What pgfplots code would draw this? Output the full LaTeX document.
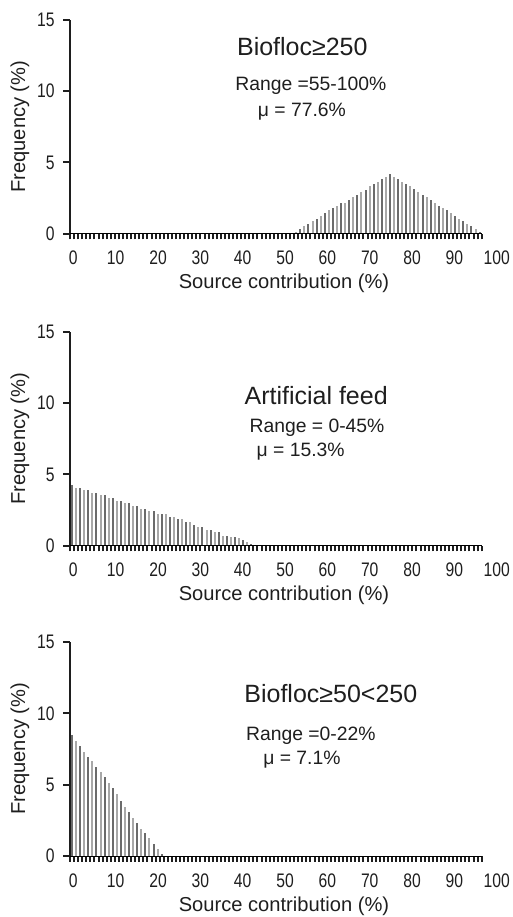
\documentclass[border=0pt]{standalone}
\usepackage{fontspec}
\setmainfont{Liberation Sans}
\usepackage{pgfplots}
\usepackage{pgfplotstable}
\pgfplotsset{compat=1.18}

\definecolor{bardark}{HTML}{6B6B6B}
\definecolor{barlight}{HTML}{A8A8A8}
\definecolor{ink}{HTML}{1E1E1E}

% frequency (%) of each source-contribution bin
\pgfplotstableread{
x y
55 0.14
56 0.30
57 0.52
58 0.68
59 0.89
60 1.03
61 1.26
62 1.43
63 1.66
64 1.80
65 1.94
66 2.18
67 2.18
68 2.34
69 2.55
70 2.72
71 2.93
72 3.09
73 3.33
74 3.47
75 3.61
76 3.84
77 4.00
78 4.22
79 4.00
80 3.84
81 3.63
82 3.49
83 3.33
84 3.11
85 2.95
86 2.72
87 2.55
88 2.34
89 2.18
90 1.94
91 1.80
92 1.66
93 1.43
94 1.26
95 1.03
96 0.89
97 0.68
98 0.52
99 0.30
100 0.14
}\bioflocLarge

\pgfplotstableread{
x y
0 4.26
1 4.05
2 4.05
3 3.89
4 3.89
5 3.68
6 3.68
7 3.54
8 3.54
9 3.35
10 3.35
11 3.14
12 3.14
13 3.00
14 3.00
15 2.79
16 2.79
17 2.60
18 2.60
19 2.41
20 2.41
21 2.23
22 2.23
23 2.23
24 2.00
25 2.00
26 1.85
27 1.85
28 1.69
29 1.69
30 1.48
31 1.31
32 1.31
33 1.10
34 1.10
35 0.94
36 0.94
37 0.70
38 0.70
39 0.59
40 0.59
41 0.52
42 0.40
43 0.25
44 0.15
45 0.08
}\artificialFeed

\pgfplotstableread{
x y
0 8.45
1 8.08
2 7.70
3 7.31
4 6.93
5 6.63
6 6.25
7 5.88
8 5.50
9 5.13
10 4.75
11 4.36
12 3.84
13 3.44
14 3.07
15 2.69
16 2.30
17 1.92
18 1.62
19 1.24
20 0.87
21 0.49
22 0.12
}\bioflocSmall

\newcommand{\titlefont}{\fontsize{18.75}{21}\selectfont}
\newcommand{\notefont}{\fontsize{14.5}{16}\selectfont}
\newcommand{\axisfont}{\fontsize{15.1}{17}\selectfont}
\newcommand{\tickfont}{\fontsize{14.7}{17}\selectfont}
% tick numbers are set in a narrow cut of the sans face
\newcommand{\narrow}[1]{\scalebox{0.8}[1]{#1}}

\pgfplotsset{
  panel/.style={
    width=321pt, height=160.5pt, scale only axis,
    xmin=-0.5, xmax=104.5, ymin=0, ymax=15,
    axis lines*=left,
    x axis line style={draw=none},
    y axis line style={line width=1.5pt, ink},
    tick align=outside,
    xtick={0.32,10.71,21.10,31.48,41.87,52.26,62.65,73.04,83.42,93.81,104.2},
    xticklabels={\narrow{0},\narrow{10},\narrow{20},\narrow{30},\narrow{40},
      \narrow{50},\narrow{60},\narrow{70},\narrow{80},\narrow{90},\narrow{100}},
    minor xtick={-0.5,0.5,...,100.5},
    ytick={0,5,10,15},
    yticklabels={\narrow{0},\narrow{5},\narrow{10},\narrow{15}},
    major tick length=5pt,
    minor tick length=4.2pt,
    major x tick style={draw=none},
    minor x tick style={line width=1.5pt, ink},
    ytick style={line width=1.5pt, ink},
    tick label style={font=\tickfont, text=ink},
    xticklabel style={yshift=-4.5pt},
    yticklabel style={xshift=-3pt},
    xlabel={Source contribution (\%)},
    ylabel={Frequency (\%)},
    every axis x label/.style={at={(axis description cs:0.5,-0.234)},
      anchor=center, font=\axisfont, text=ink},
    every axis y label/.style={at={(axis description cs:-0.117,0.5)},
      anchor=center, rotate=90, font=\axisfont, text=ink},
    clip=false,
  },
  evenbars/.style={ycomb, line width=1.5pt, draw=bardark,
    x filter/.expression={mod(x,2)==0 ? x : nan}},
  oddbars/.style={ycomb, line width=1.5pt, draw=barlight,
    x filter/.expression={mod(x,2)==1 ? x : nan}},
  baseline/.style={line width=2pt, ink},
}

\begin{document}
\begin{tikzpicture}
% Biofloc >= 250
\begin{axis}[panel, at={(0,0)}]
  \addplot[evenbars] table {\bioflocLarge};
  \addplot[oddbars] table {\bioflocLarge};
  \draw[baseline] (axis cs:-0.5,0) -- (axis cs:100.5,0);
  \node[font=\titlefont, text=ink] at (axis cs:56.5,13.1) {Biofloc≥250};
  \node[font=\notefont, text=ink] at (axis cs:58.6,10.37) {Range =55-100\%};
  \node[font=\notefont, text=ink] at (axis cs:56.4,8.58) {μ = 77.6\%};
\end{axis}

% Artificial feed
\begin{axis}[panel, at={(0,-234pt)}]
  \addplot[evenbars] table {\artificialFeed};
  \addplot[oddbars] table {\artificialFeed};
  \draw[baseline] (axis cs:-0.5,0) -- (axis cs:100.5,0);
  \node[font=\titlefont, text=ink] at (axis cs:59.9,10.5) {Artificial feed};
  \node[font=\notefont, text=ink] at (axis cs:60.1,8.3) {Range = 0-45\%};
  \node[font=\notefont, text=ink] at (axis cs:56.1,6.6) {μ = 15.3\%};
\end{axis}

% Biofloc >= 50 and < 250
\begin{axis}[panel, at={(0,-466.7pt)}]
  \addplot[evenbars] table {\bioflocSmall};
  \addplot[oddbars] table {\bioflocSmall};
  \draw[baseline] (axis cs:-0.5,0) -- (axis cs:100.5,0);
  \node[font=\titlefont, text=ink] at (axis cs:63.5,11.4) {Biofloc≥50<250};
  \node[font=\notefont, text=ink] at (axis cs:58.6,8.4) {Range =0-22\%};
  \node[font=\notefont, text=ink] at (axis cs:56.4,6.75) {μ = 7.1\%};
\end{axis}

\pgfresetboundingbox
\path[use as bounding box] (-52.5pt,-512.5pt) rectangle (332.25pt,175.3pt);
\end{tikzpicture}
\end{document}
